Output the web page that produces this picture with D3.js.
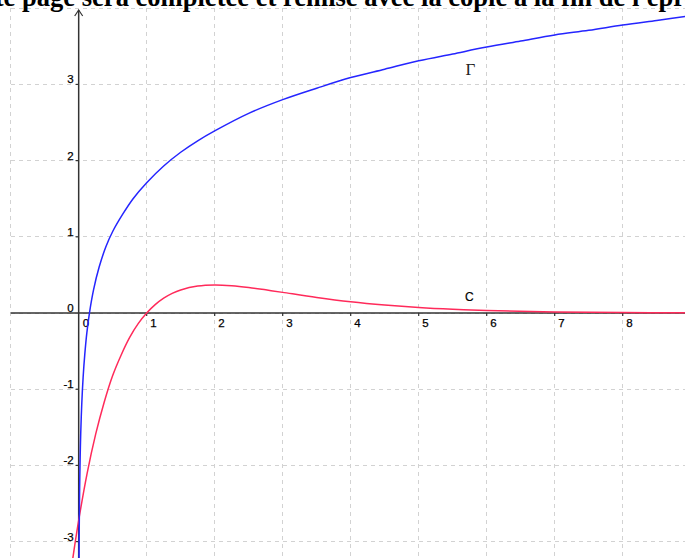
<!DOCTYPE html>
<html>
<head>
<meta charset="utf-8">
<script src="https://cdn.jsdelivr.net/npm/d3@7"></script>
<style>
  html, body { margin: 0; padding: 0; background: #fff; }
  svg { display: block; }
</style>
</head>
<body>
<svg id="chart" width="685" height="558"></svg>
<script>
// ---- data ----
const xTicks = [0, 1, 2, 3, 4, 5, 6, 7, 8];
const yTicks = [-3, -2, -1, 0, 1, 2, 3];
const xGrid = [-1, 0, 1, 2, 3, 4, 5, 6, 7, 8];
const yGrid = [-3, -2, -1, 0, 1, 2, 3, 4];

// Γ (blue)
const gammaX = [0.004, 0.006, 0.01, 0.015, 0.022, 0.03, 0.045, 0.065, 0.09, 0.12, 0.16, 0.22, 0.3, 0.4, 0.5, 0.65, 0.8, 1.0, 1.25, 1.5, 1.75, 2, 2.5, 3, 3.5, 4, 4.5, 5, 5.5, 6, 6.5, 7, 7.5, 8, 8.5, 9];
const gammaY = [-3.50, -3.11, -2.63, -2.24, -1.88, -1.58, -1.20, -0.85, -0.54, -0.26, 0.01, 0.31, 0.60, 0.87, 1.07, 1.30, 1.50, 1.71, 1.93, 2.11, 2.26, 2.39, 2.62, 2.80, 2.95, 3.09, 3.20, 3.31, 3.40, 3.49, 3.57, 3.65, 3.71, 3.78, 3.84, 3.90];

// C (red)
const cX = [-0.12, -0.06, 0, 0.125, 0.25, 0.375, 0.5, 0.625, 0.75, 0.875, 1, 1.125, 1.25, 1.375, 1.5, 1.75, 2, 2.25, 2.5, 2.75, 3, 3.5, 4, 4.5, 5, 5.5, 6, 7, 8, 9];
const cY = [-3.43, -3.06, -2.72, -2.10, -1.59, -1.17, -0.82, -0.55, -0.32, -0.14, 0, 0.110, 0.195, 0.258, 0.303, 0.354, 0.368, 0.358, 0.335, 0.304, 0.271, 0.205, 0.149, 0.106, 0.073, 0.050, 0.034, 0.015, 0.0064, 0.0027];

const titleText = "Cette page sera complétée et remise avec la copie à la fin de l'épreuve.";
const labelGamma = "Γ";
const labelC = "C";

// ---- drawing ----
const W = 685, H = 558;
const svg = d3.select("#chart");
const x = d3.scaleLinear().domain([-1.157, 8.916]).range([0, W]);
const y = d3.scaleLinear().domain([-3.215, 4.108]).range([H, 0]);

const gridColor = "#d2d2d2";
const axisColor = "#333";

// grid
svg.append("g").selectAll("line").data(xGrid).join("line")
  .attr("x1", d => x(d)).attr("x2", d => x(d))
  .attr("y1", y(4)).attr("y2", H)
  .attr("stroke", gridColor).attr("stroke-width", 1).attr("stroke-dasharray", "4,4")
  .attr("shape-rendering", "crispEdges");
svg.append("g").selectAll("line").data(yGrid).join("line")
  .attr("x1", x(-1)).attr("x2", W)
  .attr("y1", d => y(d)).attr("y2", d => y(d))
  .attr("stroke", gridColor).attr("stroke-width", 1).attr("stroke-dasharray", "4,4")
  .attr("shape-rendering", "crispEdges");

// axes
svg.append("line").attr("x1", x(-1)).attr("x2", W).attr("y1", y(0)).attr("y2", y(0))
  .attr("stroke", axisColor).attr("stroke-width", 1.5);
svg.append("line").attr("x1", x(0)).attr("x2", x(0)).attr("y1", H).attr("y2", 10)
  .attr("stroke", axisColor).attr("stroke-width", 1.5);
svg.append("path")
  .attr("d", `M${x(0) - 4},16 L${x(0)},10 L${x(0) + 4},16`)
  .attr("fill", "none").attr("stroke", axisColor).attr("stroke-width", 1.2);

// ticks
svg.append("g").selectAll("line").data(xTicks.filter(d => d !== 0)).join("line")
  .attr("x1", d => x(d)).attr("x2", d => x(d))
  .attr("y1", y(0)).attr("y2", y(0) + 3)
  .attr("stroke", axisColor).attr("stroke-width", 1.2);
svg.append("g").selectAll("line").data(yTicks.filter(d => d !== 0)).join("line")
  .attr("x1", x(0) - 3).attr("x2", x(0))
  .attr("y1", d => y(d)).attr("y2", d => y(d))
  .attr("stroke", axisColor).attr("stroke-width", 1.2);

// tick labels
const tickFont = "'Liberation Sans', Arial, sans-serif";
svg.append("g").selectAll("text").data(xTicks).join("text")
  .attr("x", d => x(d) + (d === 0 ? 4 : 3.5))
  .attr("y", y(0) + 14)
  .attr("font-family", tickFont).attr("font-size", 11.5).attr("fill", "#000")
  .attr("stroke", "#000").attr("stroke-width", 0.25)
  .text(d => d);
svg.append("g").selectAll("text").data(yTicks).join("text")
  .attr("x", x(0) - 5)
  .attr("y", d => y(d) - 1)
  .attr("text-anchor", "end")
  .attr("font-family", tickFont).attr("font-size", 11.5).attr("fill", "#000")
  .attr("stroke", "#000").attr("stroke-width", 0.25)
  .text(d => d);

// curves
svg.append("defs").append("clipPath").attr("id", "clip")
  .append("rect").attr("x", 0).attr("y", 0).attr("width", W).attr("height", H);

const line = d3.line().x(d => x(d[0])).y(d => y(d[1])).curve(d3.curveCatmullRom.alpha(0.5));
const gammaPts = gammaX.map((v, i) => [v, gammaY[i]]);
const cPts = cX.map((v, i) => [v, cY[i]]);

svg.append("path").datum(cPts).attr("d", line)
  .attr("clip-path", "url(#clip)")
  .attr("fill", "none").attr("stroke", "#ff2a5a").attr("stroke-width", 1.5);
svg.append("path").datum(gammaPts).attr("d", line)
  .attr("clip-path", "url(#clip)")
  .attr("fill", "none").attr("stroke", "#2525ff").attr("stroke-width", 1.5);

// curve labels
svg.append("text").attr("x", x(5.69)).attr("y", y(3.13))
  .attr("font-family", "'Liberation Serif', 'Times New Roman', serif")
  .attr("font-size", 17).attr("fill", "#222").text(labelGamma);
svg.append("text").attr("x", x(5.68)).attr("y", y(0.16))
  .attr("font-family", tickFont).attr("font-size", 12).attr("fill", "#000")
  .attr("stroke", "#000").attr("stroke-width", 0.2).text(labelC);

// title (cut off at top, as in the reference)
const t = svg.append("text")
  .attr("font-family", "'Liberation Serif', 'Times New Roman', serif")
  .attr("font-weight", "bold").attr("font-size", 21).attr("fill", "#000")
  .attr("y", 5.5).text(titleText);
const node = t.node();
const startIdx = titleText.indexOf("page");
const endIdx = titleText.indexOf("l'épr") + 5;
const p0 = node.getStartPositionOfChar(startIdx).x;
const p1 = node.getEndPositionOfChar(endIdx - 1).x;
const fs = 21 * (685 - 22) / (p1 - p0);
t.attr("font-size", fs);
const q0 = node.getStartPositionOfChar(startIdx).x;
t.attr("x", 22 - q0);
</script>
</body>
</html>
